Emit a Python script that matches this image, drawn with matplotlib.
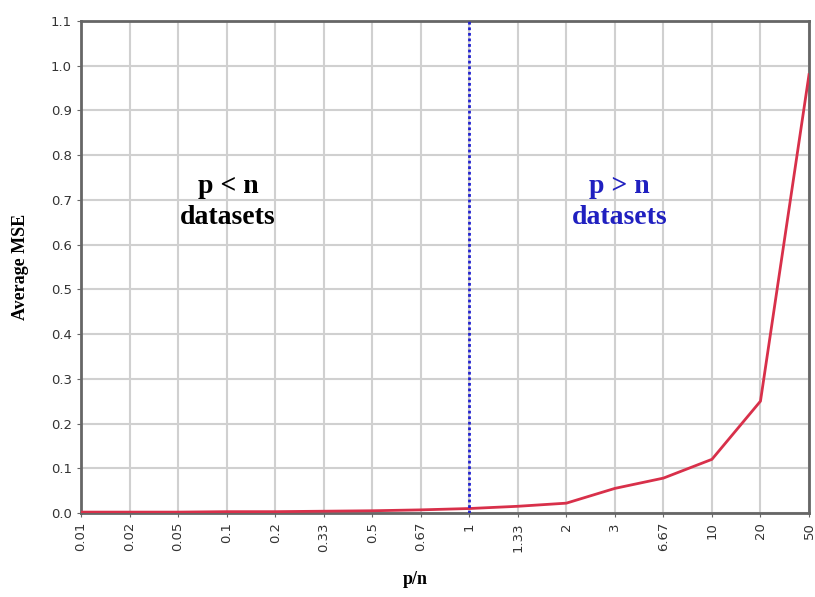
import matplotlib
matplotlib.use("Agg")
import matplotlib.pyplot as plt
import numpy as np

categories = ["0.01", "0.02", "0.05", "0.1", "0.2", "0.33", "0.5", "0.67",
              "1", "1.33", "2", "3", "6.67", "10", "20", "50"]
avg_mse = [0.002, 0.002, 0.002, 0.003, 0.003, 0.004, 0.005, 0.007,
           0.010, 0.015, 0.022, 0.055, 0.078, 0.120, 0.250, 0.980]
y_ticks = [round(0.1 * i, 1) for i in range(12)]
divider_category = "1"

fig = plt.figure(figsize=(8.15, 5.97), dpi=100)
ax = fig.add_axes([81/815, 1 - 513/597, (809 - 81)/815, (513 - 21)/597])

x = np.arange(len(categories))
ax.plot(x, avg_mse, color="#d8304a", lw=2, zorder=3)
ax.axvline(categories.index(divider_category), color="#2020d0", lw=2,
           ls=(0, (1, 1)), zorder=4)

ax.set_xlim(0, len(categories) - 1)
ax.set_ylim(0, 1.1)
ax.set_xticks(x)
ax.set_xticklabels(categories, rotation=90, fontsize=9.5, color="#333333")
ax.set_yticks(y_ticks)
ax.set_yticklabels([f"{v:.1f}" for v in y_ticks], fontsize=9.5, color="#333333")
ax.grid(True, color="#d0d0d0", lw=1.5, zorder=0)
ax.tick_params(axis="both", length=3, color="#666666")
for s in ax.spines.values():
    s.set_color("#666666")
    s.set_linewidth(2)

serif = ["Liberation Serif", "DejaVu Serif"]
ax.text(3.03, 0.695, "p < n\ndatasets", ha="center", va="center",
        fontsize=20, fontweight="bold", family=serif, color="black",
        linespacing=1.3)
ax.text(11.1, 0.695, "p > n\ndatasets", ha="center", va="center",
        fontsize=20, fontweight="bold", family=serif, color="#2020c0",
        linespacing=1.3)
ax.set_ylabel("Average MSE", fontsize=13, fontweight="bold", family=serif)
ax.yaxis.set_label_coords(-(81 - 29) / (809 - 81), 0.5)
ax.set_xlabel("p/n", fontsize=13, fontweight="bold", family=serif)
ax.xaxis.set_label_coords((415 - 81) / (809 - 81), -(571 - 513) / (513 - 21))

fig.savefig("out.png", dpi=100)
